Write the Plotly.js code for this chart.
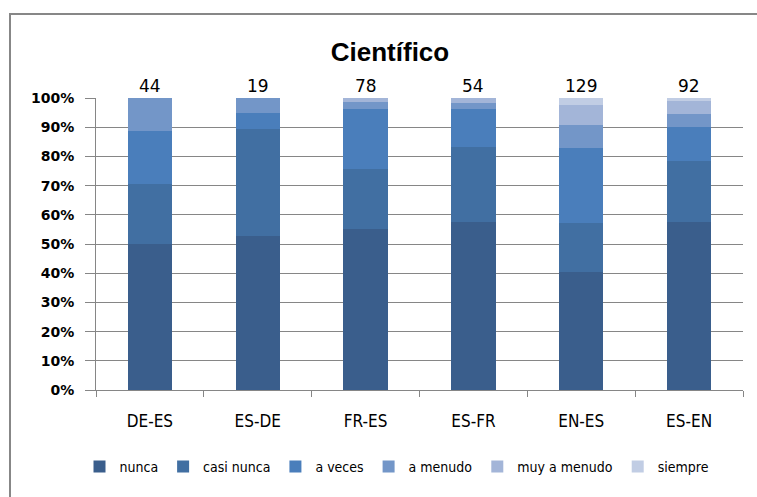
<!DOCTYPE html>
<html>
<head>
<meta charset="utf-8">
<script src="https://cdn.plot.ly/plotly-3.0.1.min.js"></script>
<style>
  html, body { margin: 0; padding: 0; background: #fff; }
  #wrap { position: relative; width: 757px; height: 497px; }
  #chart { position: absolute; left: 0; top: 0; width: 757px; height: 497px; }
  #frame { position: absolute; left: 9px; top: 13px; width: 748px; height: 484px;
           border-left: 2px solid #878787; border-top: 2px solid #878787; pointer-events: none; }
</style>
</head>
<body>
<div id="wrap">
  <div id="chart"></div>
  <div id="frame"></div>
</div>
<script>
const categories = ["DE-ES", "ES-DE", "FR-ES", "ES-FR", "EN-ES", "ES-EN"];
const totals = [44, 19, 78, 54, 129, 92];
const nunca = [22, 10, 43, 31, 52, 53];
const casiNunca = [9, 7, 16, 14, 22, 19];
const aVeces = [8, 1, 16, 7, 33, 11];
const aMenudo = [5, 1, 2, 1, 10, 4];
const muyAMenudo = [0, 0, 1, 1, 9, 4];
const siempre = [0, 0, 0, 0, 3, 1];
const seriesNames = ["nunca", "casi nunca", "a veces", "a menudo", "muy a menudo", "siempre"];
const seriesValues = [nunca, casiNunca, aVeces, aMenudo, muyAMenudo, siempre];
const seriesColors = ["#3A5E8C", "#416FA2", "#4A7EBB", "#7396C8", "#A3B5D8", "#C1CDE4"];
const yTickVals = [0, 10, 20, 30, 40, 50, 60, 70, 80, 90, 100];
const yTickText = yTickVals.map(v => v + "%");

const traces = seriesNames.map((name, i) => ({
  type: "bar",
  name: name,
  x: categories,
  y: seriesValues[i],
  marker: { color: seriesColors[i], line: { width: 0 } },
  hoverinfo: "none"
}));

const annotations = categories.map((c, i) => ({
  x: c, y: 100, xref: "x", yref: "y",
  text: String(totals[i]),
  showarrow: false,
  yanchor: "bottom",
  yshift: 0,
  font: { family: "DejaVu Sans", size: 17, color: "#000" }
}));

const layout = {
  width: 757, height: 497,
  margin: { l: 96, r: 14, t: 98, b: 107 },
  paper_bgcolor: "#fff", plot_bgcolor: "#fff",
  barmode: "stack",
  barnorm: "percent",
  bargap: 0.59,
  showlegend: true,
  hovermode: false,
  title: {
    text: "<b>Científico</b>",
    x: 390 / 757, xanchor: "center",
    y: 1 - 52 / 497, yanchor: "middle",
    font: { family: "Liberation Sans, Arial, sans-serif", size: 26, color: "#000" }
  },
  xaxis: {
    type: "category",
    showline: true, linecolor: "#868686", linewidth: 1,
    ticks: "outside", tickson: "boundaries", ticklen: 6, tickcolor: "#868686",
    showgrid: false, zeroline: false,
    ticklabelstandoff: 16,
    tickfont: { family: "DejaVu Sans Condensed, sans-serif", size: 17, color: "#000" }
  },
  yaxis: {
    range: [0, 100],
    tickvals: yTickVals, ticktext: yTickText,
    showline: true, linecolor: "#868686", linewidth: 1,
    ticks: "outside", ticklen: 10, tickcolor: "#868686",
    showgrid: true, gridcolor: "#868686", gridwidth: 1,
    zeroline: false,
    ticklabelstandoff: 8,
    tickfont: { family: "DejaVu Sans", size: 14, color: "#000", weight: "bold" }
  },
  legend: {
    orientation: "h",
    traceorder: "normal",
    xref: "container", yref: "container",
    x: 397 / 757, xanchor: "center",
    y: 1 - 467 / 497, yanchor: "middle",
    font: { family: "DejaVu Sans Condensed, sans-serif", size: 14, color: "#000" },
    itemwidth: 30
  },
  annotations: annotations
};

Plotly.newPlot("chart", traces, layout, { staticPlot: true, displayModeBar: false });
</script>
</body>
</html>
